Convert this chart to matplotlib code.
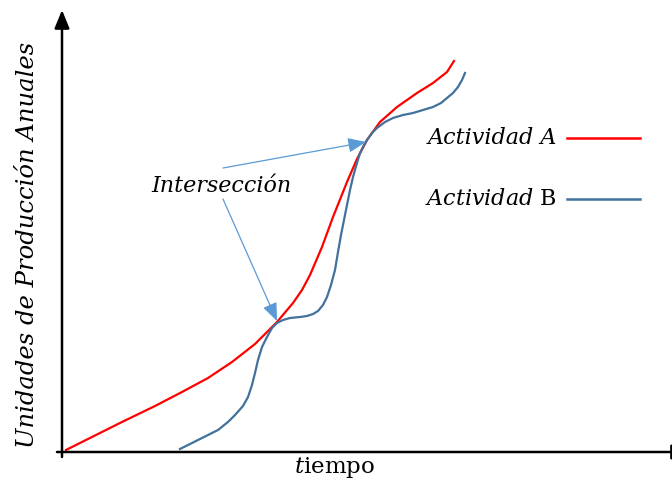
import matplotlib
matplotlib.use("Agg")
import matplotlib.pyplot as plt

# Actividad A (red) - time vs annual production units
time_a = [4, 26, 60, 93, 120, 146, 170, 193, 215, 231, 240, 248, 254, 260,
          271, 285, 295, 305, 318, 335, 355, 371, 385, 392]
units_a = [2, 13, 30, 46, 60, 74, 90, 108, 130, 149, 162, 177, 191, 205,
           235, 270, 293, 312, 330, 345, 359, 369, 380, 391]

# Actividad B (blue)
time_b = [118, 136, 156, 166, 173, 181, 186, 190, 193, 196, 200, 205, 210,
          215, 221, 228, 238, 245, 251, 256, 261, 265, 269, 273, 276, 279,
          282, 285, 288, 291, 295, 298, 302, 305, 310, 315, 323, 331, 341,
          351, 361, 371, 379, 385, 391, 396, 400, 403]
units_b = [3, 12, 22, 30, 37, 46, 55, 67, 79, 92, 105, 115, 124,
           129, 132, 134, 135, 136, 138, 141, 147, 155, 167, 182, 200, 217,
           232, 247, 262, 275, 289, 299, 307, 312, 319, 324, 330, 334, 337,
           339, 342, 345, 349, 354, 359, 365, 372, 379]

# intersection points the annotation points at
intersections = [(304, 310), (215, 131)]
label_pos = (159, 266)

RED = "#ff0000"
BLUE = "#41719c"
ARROW = "#5b9bd5"
TEXT_FONT = ["DejaVu Serif"]
HEAD = "-|>,head_length=1.1,head_width=0.45"

plt.rcParams["mathtext.fontset"] = "dejavuserif"

fig = plt.figure(figsize=(6.72, 4.82), dpi=100)
ax = fig.add_axes([0, 0, 1, 1])
ax.set_xlim(-62, 610)
ax.set_ylim(-30, 452)
ax.axis("off")

# axes drawn as arrows (x arrow head runs off the canvas, as in the original)
ax.annotate("", xy=(0, 442), xytext=(0, -5),
            arrowprops=dict(arrowstyle=HEAD, color="black", lw=1.8,
                            shrinkA=0, shrinkB=0))
ax.annotate("", xy=(628, 0), xytext=(-5, 0), annotation_clip=False,
            arrowprops=dict(arrowstyle=HEAD, color="black", lw=1.8,
                            shrinkA=0, shrinkB=0))

ax.plot(time_a, units_a, color=RED, lw=1.6, solid_joinstyle="round")
ax.plot(time_b, units_b, color=BLUE, lw=1.6, solid_joinstyle="round")

# annotation
ax.text(label_pos[0], label_pos[1], "Intersección", fontsize=16,
        style="italic", family=TEXT_FONT, ha="center", va="center")
starts = [(label_pos[0] + 2, label_pos[1] + 18), (label_pos[0] + 2, label_pos[1] - 13)]
for (x0, y0), (x1, y1) in zip(starts, intersections):
    ax.annotate("", xy=(x1, y1), xytext=(x0, y0),
                arrowprops=dict(arrowstyle=HEAD, color=ARROW, lw=0.9,
                                shrinkA=0, shrinkB=0))

# legend drawn by hand, like the original
ax.text(495, 314, "Actividad A", fontsize=16, style="italic", family=TEXT_FONT,
        ha="right", va="center")
ax.plot([505, 578], [314, 314], color=RED, lw=1.8)
ax.text(495, 253, r"$Actividad$ B", fontsize=16, family=TEXT_FONT,
        ha="right", va="center")
ax.plot([505, 578], [253, 253], color=BLUE, lw=1.8)

# axis labels
ax.text(-34, 207, "Unidades de Producción Anuales", fontsize=17.5, style="italic",
        family=TEXT_FONT, rotation=90, ha="center", va="center")
ax.text(273, -15, r"$t$iempo", fontsize=16.5, family=TEXT_FONT,
        ha="center", va="center")

fig.savefig("out.png", dpi=100)
